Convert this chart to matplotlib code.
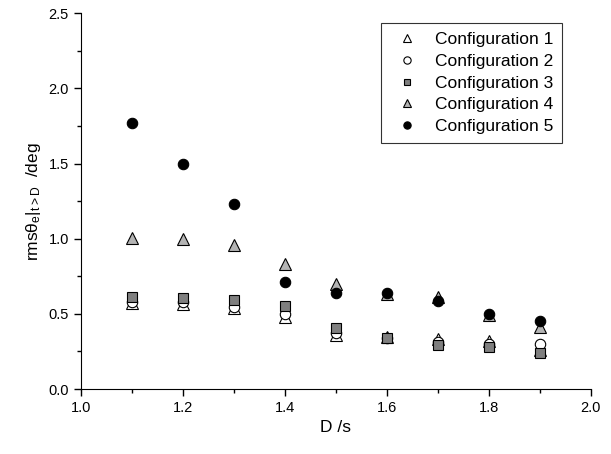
import matplotlib
matplotlib.use('Agg')
import matplotlib.pyplot as plt
from matplotlib.ticker import MultipleLocator, FormatStrFormatter

plt.rcParams['font.family'] = ['Liberation Sans', 'DejaVu Sans']
plt.rcParams['mathtext.fontset'] = 'custom'
plt.rcParams['mathtext.rm'] = 'Liberation Sans'
plt.rcParams['mathtext.it'] = 'Liberation Sans:italic'

D = [1.1, 1.2, 1.3, 1.4, 1.5, 1.6, 1.7, 1.8, 1.9]
config1 = [0.575, 0.565, 0.54, 0.48, 0.36, 0.345, 0.33, 0.32, 0.26]
config2 = [0.58, 0.58, 0.547, 0.50, 0.37, 0.34, 0.31, 0.30, 0.297]
config3 = [0.61, 0.607, 0.592, 0.552, 0.403, 0.337, 0.29, 0.281, 0.241]
config4 = [1.006, 0.995, 0.957, 0.833, 0.698, 0.63, 0.612, 0.49, 0.414]
config5 = [1.767, 1.498, 1.228, 0.713, 0.64, 0.636, 0.585, 0.497, 0.454]
labels = ['Configuration 1', 'Configuration 2', 'Configuration 3',
          'Configuration 4', 'Configuration 5']

fig = plt.figure(figsize=(6.11, 4.54), dpi=100)
ax = fig.add_axes([0.132, 0.143, 0.835, 0.828])

ax.plot(D, config1, ls='none', marker='^', ms=8, mfc='white', mec='black', mew=0.8, label=labels[0])
ax.plot(D, config2, ls='none', marker='o', ms=7.5, mfc='white', mec='black', mew=0.8, label=labels[1])
ax.plot(D, config3, ls='none', marker='s', ms=6.5, mfc='#7f7f7f', mec='black', mew=0.8, label=labels[2])
ax.plot(D, config4, ls='none', marker='^', ms=8, mfc='#b4b4b4', mec='black', mew=0.8, label=labels[3])
ax.plot(D, config5, ls='none', marker='o', ms=7.5, mfc='black', mec='black', mew=0.8, label=labels[4])

ax.set_xlim(1.0, 2.0)
ax.set_ylim(0.0, 2.5)
ax.xaxis.set_major_locator(MultipleLocator(0.2))
ax.xaxis.set_minor_locator(MultipleLocator(0.1))
ax.yaxis.set_major_locator(MultipleLocator(0.5))
ax.yaxis.set_minor_locator(MultipleLocator(0.25))
ax.xaxis.set_major_formatter(FormatStrFormatter('%.1f'))
ax.yaxis.set_major_formatter(FormatStrFormatter('%.1f'))
ax.tick_params(which='major', direction='out', length=5, width=1, labelsize=10.5)
ax.tick_params(which='minor', direction='out', length=3, width=1)
ax.spines['top'].set_visible(False)
ax.spines['right'].set_visible(False)

ax.set_xlabel('D /s', fontsize=12.5)
ax.set_ylabel(r'rmsθ$_{\mathrm{e}}|_{\mathrm{t>D}}$  /deg', fontsize=12.5)

leg = ax.legend(loc='upper right', bbox_to_anchor=(0.943, 0.973), fontsize=12.5,
                frameon=True, fancybox=False, edgecolor='black', handletextpad=0.6,
                labelspacing=0.38, borderpad=0.5, borderaxespad=0, markerscale=0.7,
                handlelength=2.0)
leg.get_frame().set_linewidth(0.8)

fig.savefig('out.png', dpi=100)
